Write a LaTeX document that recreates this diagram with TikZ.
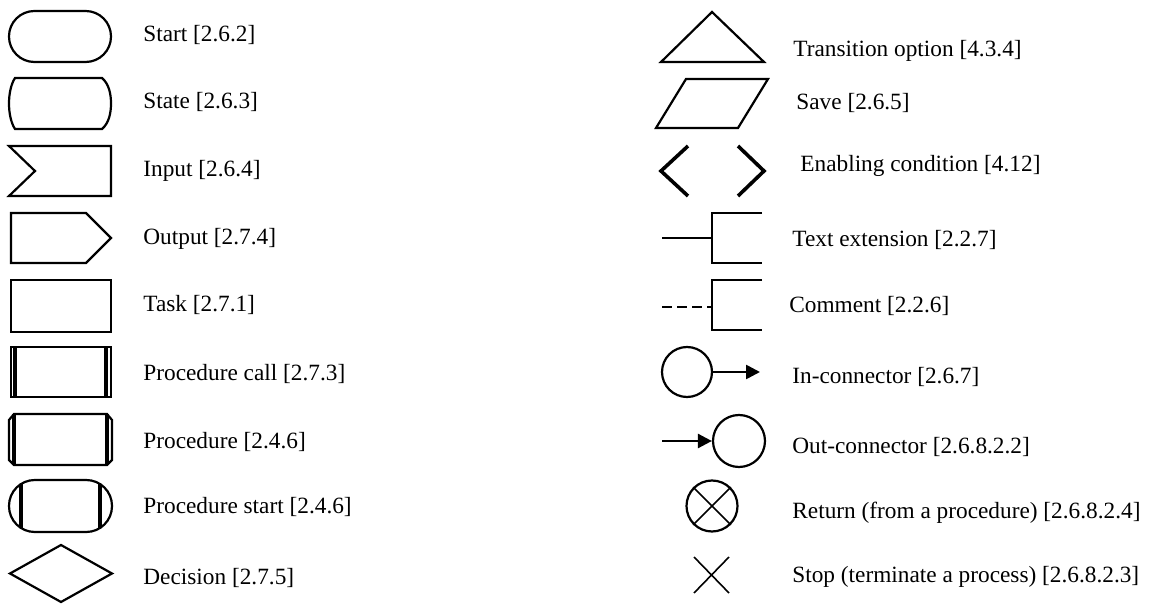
\documentclass[tikz,border=0pt]{standalone}
\usepackage{fontspec}
\setmainfont{Liberation Serif}
\usetikzlibrary{arrows.meta}

\begin{document}
\begin{tikzpicture}[
        x=0.5pt, y=-0.5pt,
        % outline of every symbol
        sym/.style={draw, line width=1.1pt, line join=miter},
        bar/.style={line width=1.7pt},
        chevron/.style={line width=1.8pt},
        % connector circles
        conn/.style={draw, circle, line width=1.1pt, minimum size=#1, inner sep=0pt},
        arr/.style={line width=1.3pt, -{Triangle[length=7pt, width=7pt]}},
        % the texts
        lbl/.style={anchor=base west, inner sep=0pt, font=\fontsize{11.65}{14}\selectfont},
    ]
    \useasboundingbox (0,0) rectangle (1152,604);

    % left column
    \draw [sym, rounded corners=12.7pt] (9,11) rectangle (111,62);
    \node [lbl] (start) at (143,42) {Start [2.6.2]};

    \draw [sym] (15,78) -- (102,78)
        .. controls (109,84) and (111,94) .. (111,103.5)
        .. controls (111,113) and (109,123) .. (102,129)
        -- (15,129)
        .. controls (11,123) and (9,113) .. (9,103.5)
        .. controls (9,94) and (11,84) .. cycle;
    \node [lbl] (state) at (143,109) {State [2.6.3]};

    \draw [sym] (9,146) -- (111,146) -- (111,196) -- (9,196) -- (35,171) -- cycle;
    \node [lbl] (input) at (143,177) {Input [2.6.4]};

    \draw [sym] (11,213) -- (86,213) -- (111,238) -- (86,263) -- (11,263) -- cycle;
    \node [lbl] (output) at (143,245) {Output [2.7.4]};

    \draw [sym] (11,280) rectangle (111,332);
    \node [lbl] (task) at (143,312) {Task [2.7.1]};

    \draw [sym] (11,347) rectangle (111,397);
    \draw [bar] (15,347) -- (15,397) (106,347) -- (106,397);
    \node [lbl] (proccall) at (143,380) {Procedure call [2.7.3]};

    \draw [sym] (14,414) -- (107,414) -- (112,420) -- (112,460) -- (107,465)
        -- (14,465) -- (9,460) -- (9,420) -- cycle;
    \draw [bar] (14,414) -- (14,465) (107,414) -- (107,465);
    \node [lbl] (proc) at (143,448) {Procedure [2.4.6]};

    \draw [sym, rounded corners=12.9pt] (9,480) rectangle (112,532);
    \draw [bar] (21,484) -- (21,528) (100,484) -- (100,528);
    \node [lbl] (procstart) at (143,513) {Procedure start [2.4.6]};

    \draw [sym] (10,573.5) -- (61,545) -- (112,573.5) -- (61,602) -- cycle;
    \node [lbl] (decision) at (143,584) {Decision [2.7.5]};

    % right column
    \draw [sym] (712,12) -- (764,62) -- (661,62) -- cycle;
    \node [lbl] (transopt) at (793,57) {Transition option [4.3.4]};

    \draw [sym] (686,79) -- (768,79) -- (738,128) -- (656,128) -- cycle;
    \node [lbl] (save) at (796,110) {Save [2.6.5]};

    \draw [chevron] (688,146) -- (661,171) -- (688,196);
    \draw [chevron] (738,146) -- (764,171) -- (738,196);
    \node [lbl] (enabling) at (800,172) {Enabling condition [4.12]};

    \draw [line width=1.3pt] (662,238) -- (712,238);
    \draw [sym] (762,213) -- (712,213) -- (712,263) -- (762,263);
    \node [lbl] (textext) at (792,247) {Text extension [2.2.7]};

    \draw [line width=1.3pt, dash pattern=on 5pt off 2.5pt] (662,307) -- (712,307);
    \draw [sym] (762,280) -- (712,280) -- (712,330) -- (762,330);
    \node [lbl] (comment) at (789,313) {Comment [2.2.6]};

    \node [conn=25pt] (inconn) at (687,372) {};
    \coordinate (inend) at (760,372);
    \draw [arr] (inconn) -- (inend);
    \node [lbl] (inlbl) at (792,384) {In-connector [2.6.7]};

    \node [conn=26pt] (outconn) at (739,441) {};
    \coordinate (outstart) at (662,441);
    \draw [arr] (outstart) -- (outconn);
    \node [lbl] (outlbl) at (792,453) {Out-connector [2.6.8.2.2]};

    \node [conn=25.5pt] (ret) at (712,506) {};
    \draw [line width=0.8pt] (ret.north west) -- (ret.south east)
        (ret.north east) -- (ret.south west);
    \node [lbl] (retlbl) at (792,518) {Return (from a procedure) [2.6.8.2.4]};

    \draw [line width=0.8pt] (694,557) -- (729,593) (694,593) -- (729,557);
    \node [lbl] (stop) at (792,582) {Stop (terminate a process) [2.6.8.2.3]};
\end{tikzpicture}
\end{document}
